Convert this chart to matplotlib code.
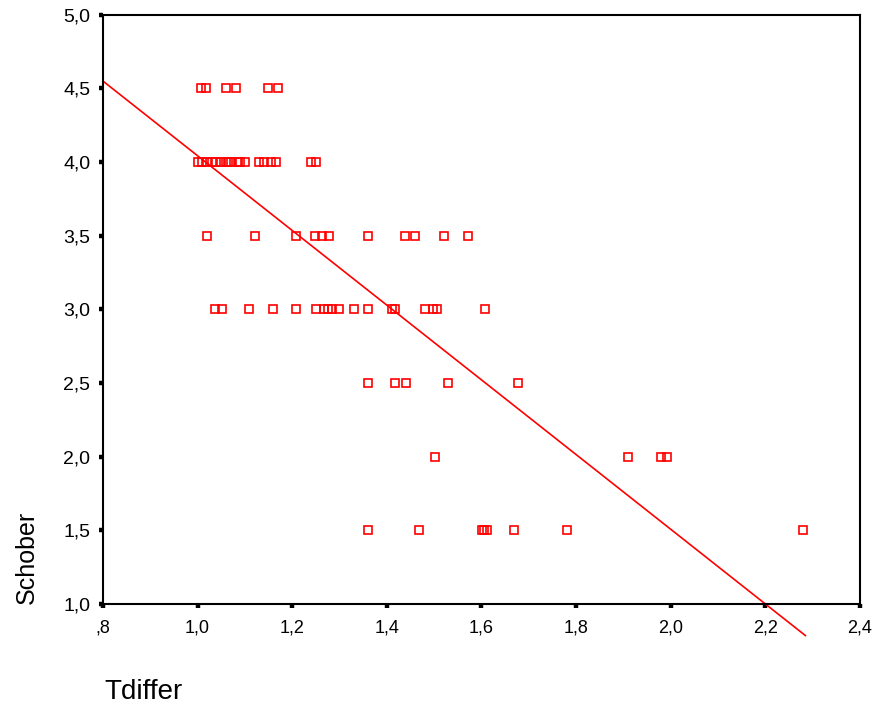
import matplotlib
matplotlib.use("Agg")
import matplotlib.pyplot as plt
import numpy as np

# scatter data (Tdiffer, Schober)
tdiffer_45 = [1.007, 1.018, 1.060, 1.081, 1.149, 1.170]
tdiffer_40 = [1.000, 1.010, 1.020, 1.030, 1.040, 1.050, 1.060, 1.065,
              1.070, 1.085, 1.090, 1.100, 1.130, 1.140, 1.155, 1.165,
              1.240, 1.250]
tdiffer_35 = [1.019, 1.121, 1.208, 1.248, 1.263, 1.278, 1.360, 1.438,
              1.460, 1.521, 1.572]
tdiffer_30 = [1.037, 1.052, 1.109, 1.159, 1.208, 1.250, 1.267, 1.276,
              1.284, 1.299, 1.331, 1.360, 1.411, 1.417, 1.481, 1.498,
              1.506, 1.607]
tdiffer_25 = [1.360, 1.417, 1.440, 1.529, 1.677]
tdiffer_20 = [1.502, 1.910, 1.980, 1.992]
tdiffer_15 = [1.360, 1.468, 1.601, 1.605, 1.612, 1.669, 1.781, 2.280]

levels = [4.5, 4.0, 3.5, 3.0, 2.5, 2.0, 1.5]
groups = [tdiffer_45, tdiffer_40, tdiffer_35, tdiffer_30,
          tdiffer_25, tdiffer_20, tdiffer_15]

# fit line as drawn in the reference
fit_intercept = 6.579
fit_slope = -2.536
fit_x = [0.8, 2.285]

x_ticks = [0.8, 1.0, 1.2, 1.4, 1.6, 1.8, 2.0, 2.2, 2.4]
x_labels = [",8", "1,0", "1,2", "1,4", "1,6", "1,8", "2,0", "2,2", "2,4"]
y_ticks = [1.0, 1.5, 2.0, 2.5, 3.0, 3.5, 4.0, 4.5, 5.0]
y_labels = ["1,0", "1,5", "2,0", "2,5", "3,0", "3,5", "4,0", "4,5", "5,0"]

plt.rcParams["font.family"] = ["Liberation Sans", "DejaVu Sans"]

fig = plt.figure(figsize=(8.8, 7.07), dpi=100)
ax = fig.add_axes([0.117, 0.146, 0.860, 0.833])

xs = np.concatenate([np.asarray(g) for g in groups])
ys = np.concatenate([np.full(len(g), lv) for g, lv in zip(groups, levels)])
ax.plot(xs, ys, ls="none", marker="s", ms=5.8, mfc="none", mec="#ff0000",
        mew=1.2, zorder=3)

fx = np.array(fit_x)
ax.plot(fx, fit_intercept + fit_slope * fx, color="#ff0000", lw=1.2,
        clip_on=False, zorder=2)

ax.set_xlim(0.8, 2.4)
ax.set_ylim(1.0, 5.0)
ax.set_xticks(x_ticks)
ax.set_xticklabels(x_labels, fontsize=13)
ax.set_yticks(y_ticks)
ax.set_yticklabels(y_labels, fontsize=14)
ax.tick_params(direction="out", length=3, width=3.2, color="black")
ax.tick_params(axis="x", pad=8)
ax.tick_params(axis="y", pad=6)
for s in ax.spines.values():
    s.set_linewidth(1.5)
    s.set_color("black")

fig.text(0.031, 0.212, "Schober", rotation=90, fontsize=18,
         ha="center", va="center")
fig.text(0.119, 0.011, "Tdiffer", fontsize=20, ha="left", va="baseline")

fig.savefig("out.png", dpi=100)
